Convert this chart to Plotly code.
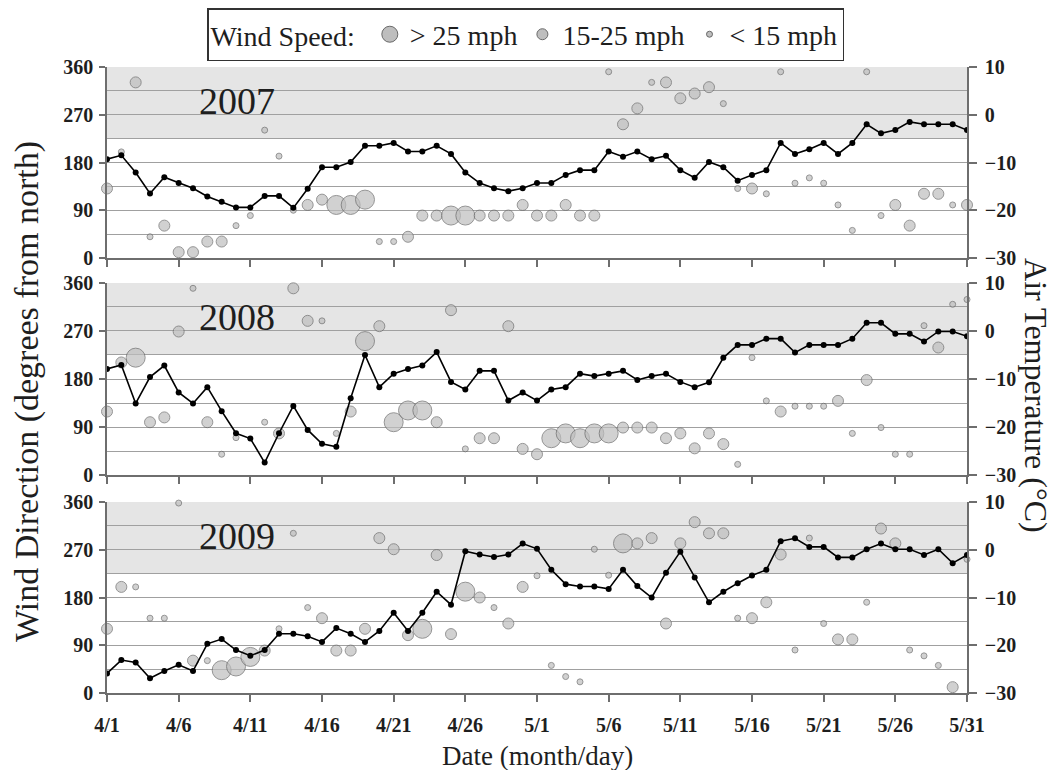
import plotly.graph_objects as go
import pandas as pd

# ---------------- data ----------------
dates = pd.date_range("2000-04-01", "2000-05-31", freq="D")
tick_dates = list(dates[::5])
tick_text = [f"{d.month}/{d.day}" for d in tick_dates]

years = ["2007", "2008", "2009"]

# daily air temperature (deg C), right axis
temp_2007 = [-9.3, -8.5, -12.1, -16.5, -13.1, -14.3, -15.4, -17.1, -18.2, -19.4,
             -19.4, -17.0, -17.0, -19.5, -15.5, -11.0, -11.0, -9.9, -6.5, -6.5,
             -5.9, -7.7, -7.7, -6.5, -8.2, -12.1, -14.3, -15.4, -16.0, -15.4,
             -14.3, -14.3, -12.6, -11.6, -11.6, -7.7, -8.8, -7.7, -9.3, -8.6,
             -11.6, -13.2, -9.9, -11.0, -13.8, -12.6, -11.6, -5.9, -8.2, -7.2,
             -5.9, -8.2, -5.9, -2.0, -3.9, -3.2, -1.5, -2.0, -2.0, -2.0, -3.2]
temp_2008 = [-7.9, -7.1, -15.1, -9.6, -7.2, -12.8, -15.1, -11.7, -16.7, -21.3,
             -22.4, -27.4, -21.3, -15.6, -20.6, -23.5, -24.1, -14.0, -5.0, -11.7,
             -8.9, -7.9, -7.2, -4.4, -10.6, -12.2, -8.3, -8.3, -14.5, -12.8,
             -14.5, -12.2, -11.7, -8.9, -9.4, -8.9, -8.3, -10.2, -9.4, -8.9,
             -10.6, -11.7, -10.7, -5.6, -2.9, -2.9, -1.6, -1.6, -4.5, -2.9,
             -2.9, -2.9, -1.6, 1.7, 1.7, -0.6, -0.6, -2.2, -0.1, -0.1, -1.1]
temp_2009 = [-25.9, -23.1, -23.6, -26.9, -25.4, -24.1, -25.4, -19.7, -18.7, -21.0,
             -22.2, -21.0, -17.6, -17.6, -18.1, -19.3, -16.4, -17.6, -19.3, -17.0,
             -13.2, -17.0, -13.2, -8.8, -11.5, -0.3, -1.0, -1.5, -1.0, 1.3,
             0.2, -4.2, -7.2, -7.7, -7.7, -8.2, -4.2, -7.6, -10.0, -4.8,
             -0.4, -5.8, -11.0, -8.8, -7.0, -5.4, -4.2, 1.8, 2.4, 0.6,
             0.6, -1.6, -1.6, 0.1, 1.3, 0.1, 0.1, -1.1, 0.1, -2.8, -1.1]

# daily wind direction (degrees from north), left axis
dir_2007 = [131, 200, 331, 40, 61, 11, 11, 31, 31, 61,
            80, 241, 192, 90, 100, 110, 100, 100, 110, 31,
            31, 40, 80, 80, 80, 80, 80, 80, 80, 100,
            80, 80, 100, 80, 80, 351, 252, 282, 331, 331,
            301, 310, 322, 291, 131, 131, 121, 351, 141, 151,
            141, 100, 52, 351, 80, 100, 61, 121, 121, 100, 100]
dir_2008 = [119, 211, 220, 99, 108, 269, 350, 99, 39, 70,
            None, 99, 78, 350, 289, 289, 78, 119, 251, 279,
            99, 121, 121, 99, 309, 49, 69, 69, 279, 49,
            39, 69, 78, 69, 78, 78, 89, 89, 89, 69,
            78, 50, 78, 58, 20, 220, 139, 119, 129, 129,
            129, 139, 78, 178, 89, 39, 39, 280, 239, 320, 329]
dir_2009 = [121, 200, 200, 141, 141, 358, 61, 61, 43, 50,
            68, 80, 121, 301, 161, 141, 80, 80, 121, 292,
            271, 109, 121, 260, 111, 191, 180, 161, 131, 200,
            221, 52, 31, 21, 271, 222, 282, 282, 292, 131,
            282, 322, 301, 301, 141, 141, 171, 261, 81, 292,
            131, 101, 101, 171, 310, 282, 81, 70, 52, 11, 252]

# wind speed class: L = > 25 mph, M = 15-25 mph, S = < 15 mph
wind_2007 = ["M", "S", "M", "S", "M", "M", "M", "M", "M", "S",
             "S", "S", "S", "S", "M", "M", "L", "L", "L", "S",
             "S", "M", "M", "M", "L", "L", "M", "M", "M", "M",
             "M", "M", "M", "M", "M", "S", "M", "M", "S", "M",
             "M", "M", "M", "S", "S", "M", "S", "S", "S", "S",
             "S", "S", "S", "S", "S", "M", "M", "M", "M", "S", "M"]
wind_2008 = ["M", "M", "L", "M", "M", "M", "S", "M", "S", "S",
             "S", "S", "M", "M", "M", "S", "S", "M", "L", "M",
             "L", "L", "L", "M", "M", "S", "M", "M", "M", "M",
             "M", "L", "L", "L", "L", "L", "M", "M", "M", "M",
             "M", "M", "M", "M", "S", "S", "S", "M", "S", "S",
             "S", "M", "S", "M", "S", "S", "S", "S", "M", "S", "S"]
wind_2009 = ["M", "M", "S", "S", "S", "S", "M", "S", "L", "L",
             "L", "M", "S", "S", "S", "M", "M", "M", "M", "M",
             "M", "M", "L", "M", "M", "L", "M", "S", "M", "M",
             "S", "S", "S", "S", "S", "S", "L", "M", "M", "M",
             "M", "M", "M", "M", "S", "M", "M", "M", "S", "S",
             "S", "M", "M", "S", "M", "M", "S", "S", "S", "M", "S"]

legend_labels = {"L": "> 25 mph", "M": "15-25 mph", "S": "< 15 mph"}

temps = [temp_2007, temp_2008, temp_2009]
dirs = [dir_2007, dir_2008, dir_2009]
winds = [wind_2007, wind_2008, wind_2009]

# ---------------- styles ----------------
SIZE = {"L": 19, "M": 11, "S": 6}
LEG_SIZE = {"L": 16, "M": 11, "S": 6}
FILL = "rgb(190,190,190)"
EDGE = "rgb(105,105,105)"
BAND = "rgb(229,229,229)"
GRID = "rgb(160,160,160)"
AXIS = "rgb(110,110,110)"
TXT = "rgb(30,30,30)"
SERIF = "Liberation Serif, Times New Roman, Times, serif"
TICKFONT = dict(family=SERIF, size=20, color=TXT, weight="bold")

domains = [[0.6949, 1.0], [0.3482, 0.6550], [0.0, 0.3051]]

fig = go.Figure()
layout = {}
shapes = []
annotations = []

for i in range(3):
    xname = "x" if i == 0 else f"x{i + 1}"
    yl = "y" if i == 0 else f"y{2 * i + 1}"
    yr = f"y{2 * i + 2}"

    fig.add_trace(go.Scatter(
        x=dates, y=dirs[i], mode="markers", xaxis=xname, yaxis=yl,
        marker=dict(size=[SIZE[w] for w in winds[i]], color=FILL,
                    line=dict(color=EDGE, width=1)),
        cliponaxis=False, showlegend=False,
        name=f"Wind direction {years[i]}"))
    fig.add_trace(go.Scatter(
        x=dates, y=temps[i], mode="lines+markers", xaxis=xname, yaxis=yr,
        line=dict(color="black", width=1.6),
        marker=dict(size=6, color="black"),
        showlegend=False, name=f"Air temperature {years[i]}"))

    xkey = "xaxis" if i == 0 else f"xaxis{i + 1}"
    ylkey = "yaxis" if i == 0 else f"yaxis{2 * i + 1}"
    yrkey = f"yaxis{2 * i + 2}"

    layout[xkey] = dict(
        domain=[0, 1], anchor=yl, type="date",
        range=[dates[0], dates[-1]],
        tickmode="array", tickvals=tick_dates, ticktext=tick_text,
        ticks="outside", ticklen=7, tickwidth=1.5, tickcolor=AXIS,
        showline=True, linecolor=AXIS, linewidth=1.5,
        showgrid=False, zeroline=False,
        showticklabels=(i == 2), ticklabelstandoff=6,
        tickfont=TICKFONT,
    )
    if i > 0:
        layout[xkey]["matches"] = "x"
    layout[ylkey] = dict(
        domain=domains[i], anchor=xname, range=[0, 360],
        tickmode="array", tickvals=[0, 90, 180, 270, 360],
        ticks="outside", ticklen=6, tickwidth=1.5, tickcolor=AXIS,
        showline=True, linecolor=AXIS, linewidth=1.5,
        showgrid=True, gridcolor=GRID, gridwidth=1.2,
        minor=dict(tickmode="linear", tick0=0, dtick=45, showgrid=True,
                   gridcolor=GRID, gridwidth=1.2, ticks=""),
        zeroline=False, ticklabelstandoff=2,
        tickfont=TICKFONT,
    )
    layout[yrkey] = dict(
        overlaying=yl, side="right", anchor=xname, range=[-30, 10],
        tickmode="array", tickvals=[-30, -20, -10, 0, 10],
        ticks="outside", ticklen=8, tickwidth=1.5, tickcolor=AXIS,
        showline=True, linecolor=AXIS, linewidth=1.5,
        showgrid=False, zeroline=False, ticklabelstandoff=4,
        tickfont=TICKFONT,
    )

    # shaded band: -5 to 10 deg C
    shapes.append(dict(type="rect", xref=f"{xname} domain", x0=0, x1=1,
                       yref=yr, y0=-5, y1=10, fillcolor=BAND,
                       line=dict(width=0), layer="below"))
    annotations.append(dict(text=years[i], xref="paper", x=0.151, yref=yl, y=296,
                            showarrow=False, xanchor="center", yanchor="middle",
                            font=dict(family=SERIF, size=38, color=TXT)))

# legend-only entries
for k in ["L", "M", "S"]:
    fig.add_trace(go.Scatter(
        x=[None], y=[None], mode="markers", name=legend_labels[k],
        marker=dict(size=LEG_SIZE[k], color=FILL, line=dict(color=EDGE, width=1))))

annotations += [
    dict(text="Wind Direction (degrees from north)", xref="paper", yref="paper",
         x=0, y=0.481, xshift=-80, textangle=-90, showarrow=False,
         xanchor="center", yanchor="middle",
         font=dict(family=SERIF, size=34, color=TXT)),
    dict(text="Air Temperature (°C)", xref="paper", yref="paper",
         x=1, y=0.476, xshift=69, textangle=90, showarrow=False,
         xanchor="center", yanchor="middle",
         font=dict(family=SERIF, size=32, color=TXT)),
    dict(text="Date (month/day)", xref="paper", yref="paper",
         x=0.5, y=0, yshift=-63, showarrow=False,
         xanchor="center", yanchor="middle",
         font=dict(family=SERIF, size=27, color=TXT)),
]

# page has an 8px body margin: figure is 1046x762 placed at (8, 8)
fig.update_layout(
    width=1046, height=762,
    margin=dict(l=99, r=87, t=59, b=77, autoexpand=False),
    paper_bgcolor="white", plot_bgcolor="white",
    shapes=shapes, annotations=annotations,
    showlegend=True,
    legend=dict(orientation="h", x=0.1163, y=1.0942, xanchor="left", yanchor="top",
                bgcolor="white", bordercolor="rgb(50,50,50)", borderwidth=1.5,
                itemsizing="trace", itemwidth=30,
                title=dict(text="Wind Speed: ", side="left",
                           font=dict(family=SERIF, size=28, color=TXT)),
                font=dict(family=SERIF, size=28, color=TXT)),
    **layout,
)

fig.write_html("out.html")
